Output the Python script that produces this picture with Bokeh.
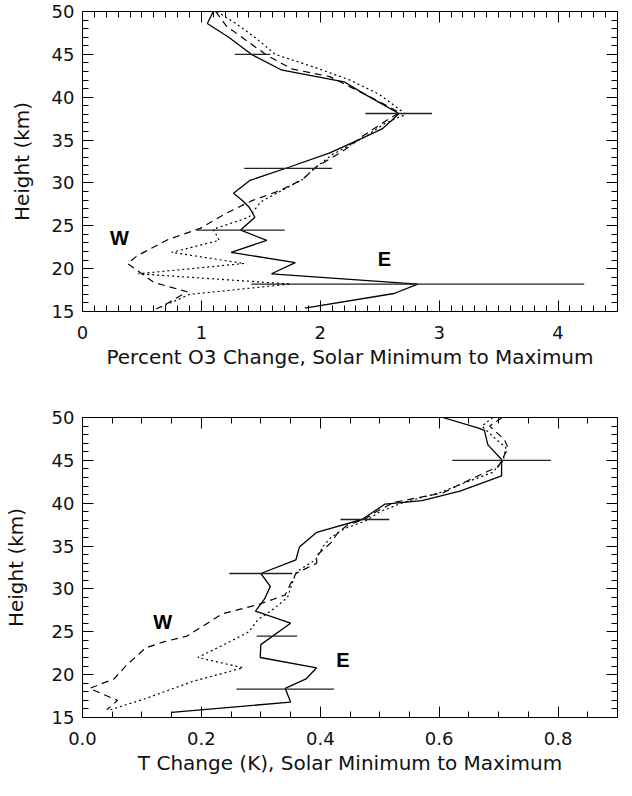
from bokeh.plotting import figure
from bokeh.models import (Range1d, LinearAxis, SingleIntervalTicker, NumeralTickFormatter,
                          Label, ColumnDataSource, CustomJSTickFormatter)
from bokeh.layouts import column
from bokeh.embed import file_html
from bokeh.resources import INLINE

# ---------------- Top panel: percent O3 change ----------------
o3_e_h = [50.0, 48.6, 47.0, 45.0, 43.2, 41.8, 40.3, 38.1, 37.4, 36.3, 35.2, 33.5, 31.8, 30.3,
          28.8, 27.9, 27.2, 26.0, 24.5, 23.3, 21.9, 20.7, 19.4, 18.2, 17.1, 15.4]
o3_e_x = [1.10, 1.05, 1.23, 1.42, 1.67, 2.20, 2.38, 2.66, 2.61, 2.52, 2.35, 2.08, 1.73, 1.41,
          1.27, 1.35, 1.40, 1.45, 1.33, 1.55, 1.25, 1.79, 1.59, 2.82, 2.62, 1.87]

o3_w_h = [50.0, 48.3, 46.6, 44.9, 43.3, 42.4, 40.1, 38.2, 37.5, 35.4, 33.8, 31.8, 30.4, 29.1,
          27.9, 26.4, 24.7, 23.4, 21.5, 20.6, 19.5, 18.4, 17.3, 16.0, 15.3]
o3_w_x = [1.12, 1.21, 1.38, 1.55, 1.76, 2.08, 2.41, 2.67, 2.58, 2.35, 2.20, 1.96, 1.85, 1.66,
          1.42, 1.20, 0.99, 0.72, 0.46, 0.38, 0.49, 0.60, 0.88, 0.72, 0.62]

o3_a_h = [50.0, 48.5, 47.0, 45.0, 43.5, 42.0, 40.3, 38.0, 37.0, 35.6, 34.5, 33.3, 31.8, 30.4,
          29.0, 27.8, 26.0, 24.6, 23.3, 21.9, 20.6, 19.4, 18.2, 17.0, 15.5]
o3_a_x = [1.13, 1.30, 1.45, 1.62, 1.95, 2.25, 2.50, 2.72, 2.55, 2.40, 2.26, 2.10, 1.96, 1.85,
          1.66, 1.50, 1.40, 1.10, 1.15, 0.75, 1.36, 0.47, 1.75, 0.90, 0.66]

o3_bar_h = [45.0, 38.1, 31.7, 24.5, 18.2]
o3_bar_x = [1.43, 2.66, 1.73, 1.33, 2.82]
o3_bar_err = [0.15, 0.28, 0.37, 0.37, 1.40]

# ---------------- Bottom panel: temperature change ----------------
t_e_h = [50.0, 48.8, 48.5, 46.8, 45.1, 43.2, 41.4, 40.3, 39.9, 38.1, 36.6, 34.9, 33.4, 31.8,
         30.3, 28.8, 27.4, 26.0, 23.5, 22.0, 20.8, 19.5, 18.4, 16.8, 15.6]
t_e_x = [0.606, 0.665, 0.676, 0.682, 0.705, 0.705, 0.635, 0.571, 0.509, 0.470, 0.394, 0.365,
         0.359, 0.300, 0.316, 0.306, 0.291, 0.350, 0.300, 0.299, 0.394, 0.376, 0.341, 0.350, 0.150]

t_w_h = [50.0, 49.0, 47.4, 46.4, 45.0, 44.3, 42.6, 41.2, 40.1, 39.0, 38.1, 37.5, 36.6, 35.4,
         33.9, 33.0, 31.8, 30.6, 29.3, 28.2, 27.1, 24.5, 23.8, 23.1, 21.1, 19.5, 18.4, 17.7,
         17.0, 15.9]
t_w_x = [0.706, 0.685, 0.710, 0.716, 0.705, 0.700, 0.647, 0.606, 0.524, 0.494, 0.474, 0.447,
         0.430, 0.418, 0.394, 0.394, 0.359, 0.350, 0.341, 0.297, 0.235, 0.176, 0.135, 0.106,
         0.074, 0.053, 0.012, 0.035, 0.059, 0.041]

t_a_h = [50.0, 49.0, 47.8, 46.5, 45.0, 43.6, 42.3, 41.2, 40.1, 39.0, 38.0, 37.0, 36.0, 35.0,
         33.4, 32.0, 30.5, 29.0, 27.6, 26.4, 25.0, 23.4, 22.0, 20.8, 19.2, 17.2, 15.9]
t_a_x = [0.690, 0.672, 0.690, 0.712, 0.708, 0.690, 0.640, 0.600, 0.540, 0.500, 0.478, 0.440,
         0.418, 0.405, 0.392, 0.360, 0.352, 0.345, 0.320, 0.295, 0.280, 0.235, 0.194, 0.270,
         0.185, 0.106, 0.047]

t_bar_h = [45.0, 38.1, 31.8, 24.5, 18.3]
t_bar_x = [0.705, 0.475, 0.300, 0.327, 0.341]
t_bar_err = [0.083, 0.041, 0.053, 0.034, 0.082]

x_title_top = "Percent O3 Change, Solar Minimum to Maximum"
x_title_bot = "T Change (K), Solar Minimum to Maximum"
y_title = "Height (km)"

FONT = "DejaVu Sans"
TICK_SIZE = "18px"
TITLE_SIZE = "20px"


def style_axis(ax, ticker, labels=True, standoff=8, fmt=None):
    ax.ticker = ticker
    ax.axis_line_color = "black"
    ax.axis_line_width = 1
    ax.major_tick_in = 11
    ax.major_tick_out = 0
    ax.minor_tick_in = 6
    ax.minor_tick_out = 0
    ax.major_tick_line_color = "black"
    ax.minor_tick_line_color = "black"
    ax.major_tick_line_width = 1
    ax.minor_tick_line_width = 1
    if labels:
        ax.major_label_text_font = FONT
        ax.major_label_text_font_size = TICK_SIZE
        ax.major_label_text_color = "#111111"
        ax.major_label_standoff = standoff
        if fmt is not None:
            ax.formatter = fmt
    else:
        ax.major_label_text_font_size = "0px"
        ax.major_label_standoff = 0
        ax.formatter = CustomJSTickFormatter(code="return ''")


def make_panel(height, xr, border_left, border_right, border_top, border_bottom,
               xint, xminor, xfmt, xtitle, ylab_standoff):
    p = figure(width=624, height=height, x_range=Range1d(*xr), y_range=Range1d(15, 50),
               output_backend="svg", toolbar_location=None,
               min_border_left=border_left, min_border_right=border_right,
               min_border_top=border_top, min_border_bottom=border_bottom)
    p.grid.visible = False
    p.outline_line_color = None
    p.background_fill_color = "white"
    p.border_fill_color = "white"

    style_axis(p.xaxis[0], SingleIntervalTicker(interval=xint, num_minor_ticks=xminor),
               standoff=14, fmt=xfmt)
    style_axis(p.yaxis[0], SingleIntervalTicker(interval=5, num_minor_ticks=5), standoff=8)
    p.xaxis[0].axis_label = xtitle
    p.xaxis[0].axis_label_text_font = FONT
    p.xaxis[0].axis_label_text_font_size = TITLE_SIZE
    p.xaxis[0].axis_label_text_font_style = "normal"
    p.xaxis[0].axis_label_text_color = "#111111"
    p.xaxis[0].axis_label_standoff = 3
    p.yaxis[0].axis_label = y_title
    p.yaxis[0].axis_label_text_font = FONT
    p.yaxis[0].axis_label_text_font_size = TITLE_SIZE
    p.yaxis[0].axis_label_text_font_style = "normal"
    p.yaxis[0].axis_label_text_color = "#111111"
    p.yaxis[0].axis_label_standoff = ylab_standoff

    top = LinearAxis()
    style_axis(top, SingleIntervalTicker(interval=xint, num_minor_ticks=xminor), labels=False)
    p.add_layout(top, "above")
    right = LinearAxis()
    style_axis(right, SingleIntervalTicker(interval=5, num_minor_ticks=5), labels=False)
    p.add_layout(right, "right")
    return p


def add_series(p, eh, ex, wh, wx, ah, ax, bh, bx, berr):
    p.line(ex, eh, line_color="black", line_width=1.3)
    p.line(wx, wh, line_color="black", line_width=1.2, line_dash="7 5")
    p.line(ax, ah, line_color="black", line_width=1.2, line_dash="2 3")
    src = ColumnDataSource(dict(
        h=bh,
        lo=[c - e for c, e in zip(bx, berr)],
        hi=[c + e for c, e in zip(bx, berr)],
    ))
    p.segment(x0="lo", x1="hi", y0="h", y1="h", source=src,
              line_color="#222222", line_width=1.3)


def add_tag(p, x, y, txt):
    p.add_layout(Label(x=x, y=y, text=txt, text_font="Liberation Sans",
                       text_font_style="bold", text_font_size="20px",
                       text_align="center", text_baseline="middle", text_color="black"))


# top panel: frame from page y 19 to 319
p1 = make_panel(401, (0, 4.5), 71, 7, 11, 90, 1, 10, None, x_title_top, 15)
add_series(p1, o3_e_h, o3_e_x, o3_w_h, o3_w_x, o3_a_h, o3_a_x, o3_bar_h, o3_bar_x, o3_bar_err)
add_tag(p1, 0.31, 23.6, "W")
add_tag(p1, 2.54, 21.1, "E")

# bottom panel: frame from page y 425 to 725
p2 = make_panel(379, (0, 0.9), 77, 1, 16, 63, 0.2, 4, NumeralTickFormatter(format="0.0"),
                x_title_bot, 21)
add_series(p2, t_e_h, t_e_x, t_w_h, t_w_x, t_a_h, t_a_x, t_bar_h, t_bar_x, t_bar_err)
add_tag(p2, 0.135, 26.2, "W")
add_tag(p2, 0.438, 21.7, "E")

layout = column(p1, p2, spacing=0)
open("out.html", "w").write(file_html(layout, INLINE))
